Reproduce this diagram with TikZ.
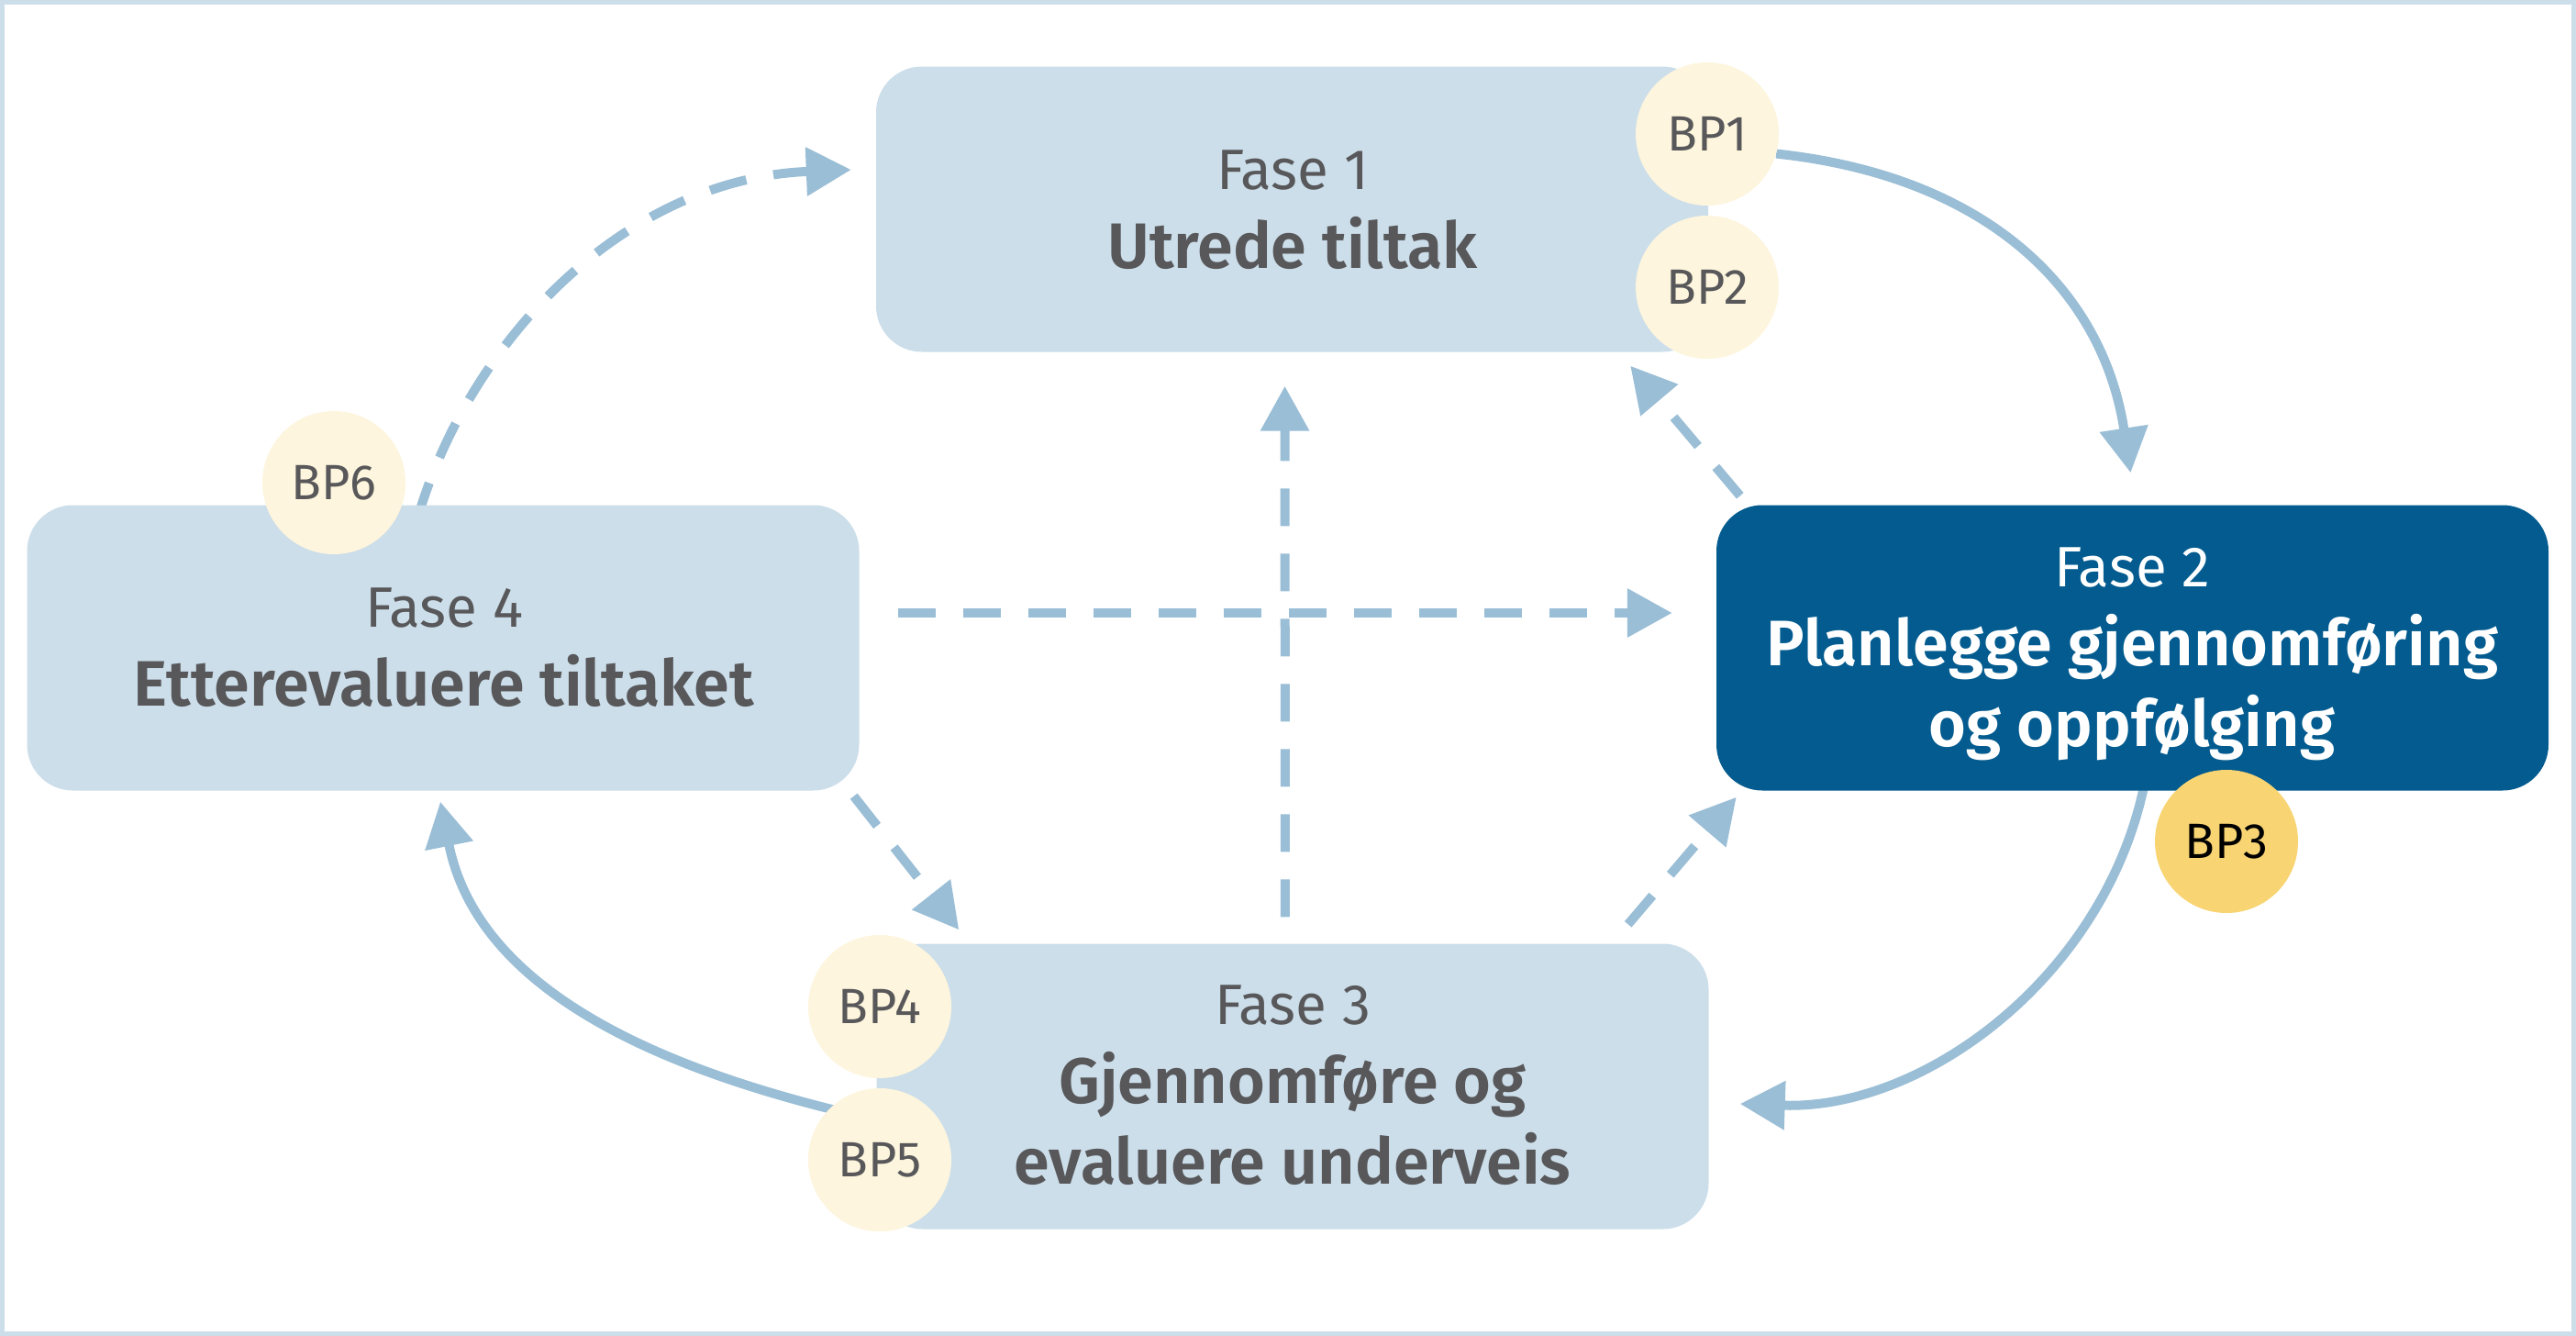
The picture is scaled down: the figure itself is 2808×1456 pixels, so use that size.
\documentclass[tikz,border=0pt]{standalone}
\usepackage{fontspec}
\setmainfont{Fira Sans}[BoldFont={Fira Sans SemiBold}]
\usetikzlibrary{arrows.meta,calc}
\definecolor{framec}{HTML}{CCDEEA}
\definecolor{boxlight}{HTML}{CCDEEA}
\definecolor{boxdark}{HTML}{035B8F}
\definecolor{bpfill}{HTML}{FDF5DD}
\definecolor{bpgold}{HTML}{F8D473}
\definecolor{arrowc}{HTML}{9ABED6}
\definecolor{txt}{HTML}{58585A}
\pgfdeclarelayer{bottom}
\pgfdeclarelayer{background}
\pgfsetlayers{bottom,background,main}
\tikzset{
  phase/.style={rectangle, rounded corners=50pt, fill=boxlight, inner sep=0pt, minimum width=907pt, minimum height=311pt},
  bp/.style={circle, fill=bpfill, inner sep=0pt, minimum size=156pt, text=txt, font=\fontsize{54}{60}\selectfont},
  fasetxt/.style={anchor=base, inner sep=0pt, text=txt, font=\fontsize{62}{66}\selectfont},
  titletxt/.style={anchor=base, inner sep=0pt, text=txt, font=\fontsize{70}{76}\selectfont\bfseries},
  conn/.style={line width=10pt, draw=arrowc, -{Triangle[length=49pt,width=51pt]}},
  dconn/.style={conn, dash pattern=on 41pt off 30pt}
}
\begin{document}
\begin{tikzpicture}[x=1pt,y=-1pt]
\useasboundingbox (0,0) rectangle (2808,1456);
\begin{pgfonlayer}{bottom}
\fill[framec] (0,0) rectangle (2808,1456);
\fill[white] (5,5) rectangle (2803,1451);
\end{pgfonlayer}

% phase boxes
\node[phase] (f1) at (1408.5,228) {};
\node[phase, fill=boxdark] (f2) at (2324.5,706) {};
\node[phase] (f3) at (1409,1184) {};
\node[phase] (f4) at (483,706) {};

% texts
\node[fasetxt] (f1a) at (1409,206) {Fase 1};
\node[titletxt] (f1b) at (1409,292) {Utrede tiltak};
\node[fasetxt, text=white] (f2a) at (2324,639) {Fase 2};
\node[titletxt, text=white] (f2b) at (2324,725) {Planlegge gjennomføring};
\node[titletxt, text=white] (f2c) at (2324,813) {og oppfølging};
\node[fasetxt] (f3a) at (1409,1116) {Fase 3};
\node[titletxt] (f3b) at (1409,1202) {Gjennomføre og};
\node[titletxt] (f3c) at (1409,1290) {evaluere underveis};
\node[fasetxt] (f4a) at (484,683) {Fase 4};
\node[titletxt] (f4b) at (484,769) {Etterevaluere tiltaket};

% BP circles
\node[bp] (bp1) at (1861,146) {BP1};
\node[bp] (bp2) at (1861,313) {BP2};
\node[bp, fill=bpgold, text=black] (bp3) at (2427,917) {BP3};
\node[bp] (bp4) at (959,1097) {BP4};
\node[bp] (bp5) at (959,1264) {BP5};
\node[bp] (bp6) at (364,526) {BP6};

\begin{pgfonlayer}{background}
% solid arcs
\draw[conn] (bp1.-16) .. controls (2165,192) and (2292,315) .. ($(f2.north)+(-2,-35)$);
\draw[conn] ($(f2.south)+(14,-12)$) .. controls (2298,1060) and (2100,1210) .. ($(f3.east)+(34,19)$);
\draw[conn] ($(bp5.center)+(-40,-52)$) .. controls (705,1160) and (520,1074) .. ($(f4.south)+(-3,12)$);
% dashed arc
\draw[dconn] ($(f4.north)+(-28,15)$) .. controls (510,375) and (678,195) .. ($(f1.west)+(-27,-43)$);
% dashed straight
\draw[dconn, shorten <=42pt, shorten >=48pt] ([yshift=38pt]f4.east) -- ([yshift=38pt]f2.west);
\draw[dconn, shorten <=29pt, shorten >=37pt] ([xshift=-8pt]f3.north) -- ([xshift=-8pt]f1.south);
\draw[dconn] ($(f2.north west)+(26,-10)$) -- ($(f1.south east)+(-85,15)$);
\draw[dconn] ($(f4.south east)+(-6,6)$) -- ($(f3.north west)+(90,-15)$);
\draw[dconn] ($(f3.north east)+(-88,-21)$) -- ($(f2.south west)+(22,7)$);
\end{pgfonlayer}
\end{tikzpicture}
\end{document}
